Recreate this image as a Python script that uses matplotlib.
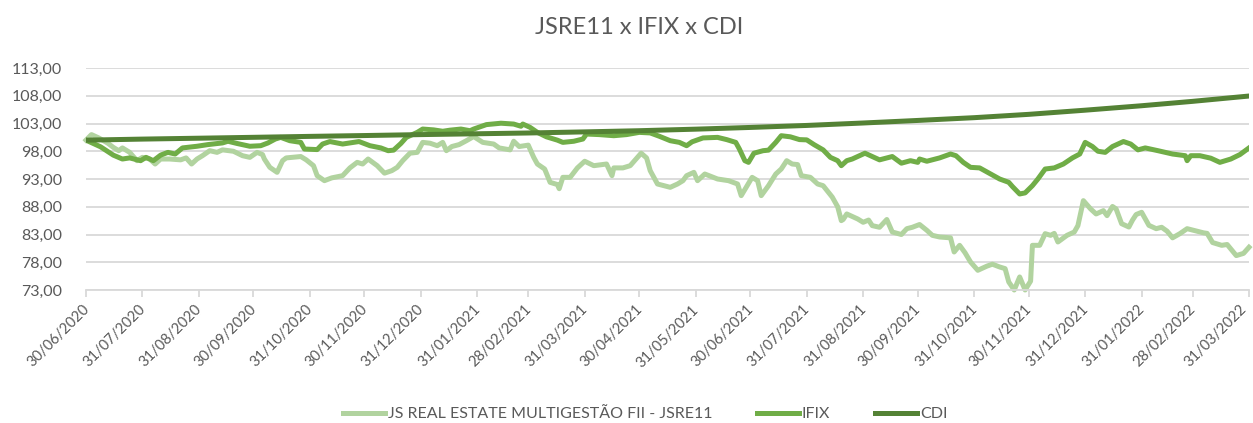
import pandas as pd
import numpy as np
import matplotlib.pyplot as plt
import matplotlib.transforms as mtransforms
from matplotlib.ticker import FuncFormatter

# dias corridos desde 30/06/2020 e valor (base 100)
jsre_days = [0, 3, 7, 12, 15, 18, 20, 24, 28, 31, 35, 38, 41, 46, 52, 55, 58, 61, 64, 68,
             72, 75, 81, 86, 90, 94, 97, 98, 101, 105, 108, 110, 118, 121, 125, 127, 131, 135, 141, 145,
             149, 152, 155, 160, 164, 168, 171, 174, 178, 182, 185, 189, 193, 196, 198, 201, 205, 209, 213, 218,
             224, 227, 233, 235, 238, 243, 246, 248, 252, 255, 259, 260, 262, 266, 270, 274, 279, 286, 289, 290,
             295, 299, 303, 305, 308, 310, 314, 321, 325, 328, 330, 334, 336, 340, 347, 353, 358, 360, 363, 366,
             369, 371, 375, 379, 382, 385, 388, 391, 393, 398, 402, 405, 410, 413, 415, 416, 418, 424, 427, 430,
             432, 436, 440, 443, 448, 451, 454, 458, 462, 465, 469, 475, 477, 480, 483, 486, 490, 495, 498, 502,
             505, 507, 510, 513, 516, 519, 520, 524, 527, 530, 532, 534, 539, 543, 545, 548, 552, 555, 559, 561,
             564, 566, 569, 573, 575, 577, 580, 584, 588, 591, 594, 597, 601, 605, 608, 614, 616, 619, 624, 627,
             632, 636, 639]
jsre_vals = [100.0, 101.0, 100.4, 99.45, 98.7, 98.1, 98.6, 97.8, 96.3, 96.9, 96.6, 95.7, 96.6, 96.6, 96.45, 96.8, 95.7, 96.6, 97.2, 98.1,
             97.8, 98.25, 98.0, 97.2, 96.9, 97.8, 97.4, 96.6, 95.1, 94.2, 96.3, 96.8, 97.05, 96.45, 95.4, 93.6, 92.7, 93.2, 93.6, 95.0,
             96.0, 95.7, 96.6, 95.4, 94.05, 94.5, 95.1, 96.3, 97.65, 97.8, 99.6, 99.45, 99.0, 99.6, 98.1, 98.85, 99.2, 99.9, 100.65, 99.6,
             99.3, 98.6, 98.25, 99.8, 98.85, 99.1, 96.9, 95.7, 94.8, 92.4, 92.0, 91.25, 93.3, 93.3, 95.0, 96.2, 95.4, 95.7, 93.6, 95.0,
             95.0, 95.4, 96.9, 97.65, 96.8, 94.5, 92.1, 91.5, 92.1, 92.7, 93.6, 94.2, 92.7, 93.9, 93.0, 92.7, 92.1, 90.0, 91.65, 93.3,
             92.7, 90.0, 91.8, 93.9, 94.8, 96.3, 95.7, 95.6, 93.6, 93.3, 92.1, 91.8, 89.75, 88.0, 85.5, 85.7, 86.7, 85.8, 85.2, 85.6,
             84.6, 84.3, 85.7, 83.45, 83.0, 84.05, 84.3, 84.8, 83.75, 82.85, 82.55, 82.4, 79.85, 81.05, 79.7, 78.05, 76.55, 77.3, 77.65, 77.15,
             76.85, 74.45, 73.0, 75.35, 73.0, 74.6, 81.05, 81.05, 83.15, 82.85, 83.2, 81.65, 82.85, 83.45, 84.6, 89.1, 87.6, 86.7, 87.3, 86.4,
             88.05, 87.6, 84.95, 84.35, 85.6, 86.6, 87.0, 84.65, 84.05, 84.3, 83.6, 82.4, 83.15, 84.05, 83.8, 83.3, 83.2, 81.55, 81.05, 81.2,
             79.2, 79.6, 80.7]

ifix_days = [0, 8, 15, 20, 24, 30, 33, 37, 41, 45, 49, 53, 61, 67, 75, 78, 83, 90, 96, 100,
             104, 107, 112, 118, 120, 127, 130, 134, 141, 150, 156, 162, 166, 169, 173, 176, 182, 185, 191, 196,
             200, 206, 211, 213, 220, 228, 235, 239, 240, 244, 248, 253, 259, 262, 268, 273, 275, 282, 290, 297,
             304, 310, 315, 321, 326, 330, 333, 339, 347, 352, 357, 359, 362, 364, 367, 372, 375, 379, 382, 387,
             392, 396, 400, 405, 409, 413, 415, 418, 421, 428, 431, 436, 443, 448, 453, 457, 458, 462, 469, 475,
             478, 482, 486, 491, 497, 502, 507, 509, 513, 516, 520, 523, 527, 532, 537, 542, 546, 549, 553, 556,
             560, 564, 570, 574, 578, 582, 589, 597, 604, 605, 607, 612, 618, 623, 629, 634, 639]
ifix_vals = [100.0, 98.8, 97.3, 96.6, 96.8, 96.3, 96.9, 96.3, 97.3, 97.8, 97.5, 98.6, 98.9, 99.2, 99.5, 99.8, 99.4, 98.9, 99.0, 99.5,
             100.2, 100.5, 99.9, 99.6, 98.4, 98.3, 99.3, 99.75, 99.3, 99.75, 99.0, 98.6, 98.1, 98.2, 99.4, 100.5, 101.4, 102.0, 101.85, 101.6,
             101.8, 102.0, 101.7, 102.0, 102.8, 103.05, 102.9, 102.5, 102.9, 102.3, 101.4, 100.6, 100.0, 99.6, 99.8, 100.2, 101.1, 101.0, 100.8, 101.0,
             101.4, 101.3, 100.7, 99.9, 99.6, 99.0, 99.7, 100.4, 100.5, 100.1, 99.6, 98.4, 96.3, 96.0, 97.65, 98.1, 98.2, 99.6, 100.8, 100.6,
             100.1, 100.05, 99.2, 98.25, 96.9, 96.3, 95.4, 96.3, 96.6, 97.65, 97.2, 96.45, 97.05, 95.85, 96.3, 96.0, 96.6, 96.2, 96.8, 97.5,
             97.2, 96.0, 95.1, 95.0, 93.9, 93.0, 92.4, 91.65, 90.3, 90.5, 91.8, 93.0, 94.8, 95.0, 95.7, 96.8, 97.5, 99.6, 98.85, 98.0,
             97.8, 98.85, 99.75, 99.3, 98.25, 98.6, 98.1, 97.5, 97.2, 96.3, 97.2, 97.2, 96.75, 96.0, 96.6, 97.4, 98.6]

month_labels = ['30/06/2020', '31/07/2020', '31/08/2020', '30/09/2020', '31/10/2020', '30/11/2020',
                '31/12/2020', '31/01/2021', '28/02/2021', '31/03/2021', '30/04/2021', '31/05/2021',
                '30/06/2021', '31/07/2021', '31/08/2021', '30/09/2021', '31/10/2021', '30/11/2021',
                '31/12/2021', '31/01/2022', '28/02/2022', '31/03/2022']
cdi_vals = [100.00, 100.19, 100.35, 100.51, 100.68, 100.83, 101.00, 101.15, 101.29, 101.49, 101.70,
            101.98, 102.29, 102.65, 103.09, 103.55, 104.05, 104.65, 105.40, 106.20, 106.99, 107.95]

start = pd.Timestamp('2020-06-30')
jsre_x = start + pd.to_timedelta(jsre_days, unit='D')
ifix_x = start + pd.to_timedelta(ifix_days, unit='D')
month_x = pd.to_datetime(month_labels, format='%d/%m/%Y')

plt.rcParams['font.family'] = ['Lato', 'DejaVu Sans']
grey = '#595959'

fig = plt.figure(figsize=(12.53, 4.23), dpi=100)
ax = fig.add_axes([86 / 1253, 1 - 290 / 423, (1249 - 86) / 1253, (290 - 68) / 423])

ax.plot(jsre_x, jsre_vals, color='#B1D39F', lw=3.6, solid_joinstyle='round',
        label='JS REAL ESTATE MULTIGESTÃO FII - JSRE11', clip_on=False)
ax.plot(ifix_x, ifix_vals, color='#70AD47', lw=3.6, solid_joinstyle='round', label='IFIX')
ax.plot(month_x, cdi_vals, color='#548235', lw=3.6, label='CDI')

ax.set_xlim(month_x[0], month_x[-1])
ax.set_ylim(73, 113)
ax.set_yticks(np.arange(73, 114, 5))
ax.yaxis.set_major_formatter(FuncFormatter(lambda v, p: f'{v:.2f}'.replace('.', ',')))
ax.set_xticks(month_x)
ax.set_xticklabels(month_labels, rotation=45, ha='right', rotation_mode='anchor')

ax.grid(axis='y', color='#D9D9D9', lw=1.3)
ax.set_axisbelow(True)
for s in ['top', 'right', 'left']:
    ax.spines[s].set_visible(False)
ax.spines['bottom'].set_color('#D9D9D9')
ax.spines['bottom'].set_linewidth(1.3)
ax.tick_params(axis='y', length=0, labelsize=11.5, labelcolor=grey, pad=17)
ax.tick_params(axis='x', length=5, color='#D9D9D9', width=1.3, labelsize=10.5, labelcolor=grey, pad=4)

# desloca os rótulos de data um pouco para a esquerda (depois do tick_params)
ticks = ax.xaxis.get_major_ticks()
for i, tk in enumerate(ticks):
    dx = -10 if i == len(ticks) - 1 else -4
    tk.label1.set_transform(tk.label1.get_transform()
                            + mtransforms.ScaledTranslation(dx / 100, 0, fig.dpi_scale_trans))

fig.suptitle('JSRE11 x IFIX x CDI', x=0.51, y=0.96, fontsize=17, color=grey)
fig.legend(loc='lower center', bbox_to_anchor=(0.515, -0.03), ncol=3, frameon=False,
           fontsize=11.5, labelcolor=grey, handlelength=2.6, handletextpad=0.2, columnspacing=2.8)

fig.savefig('out.png', dpi=100)
